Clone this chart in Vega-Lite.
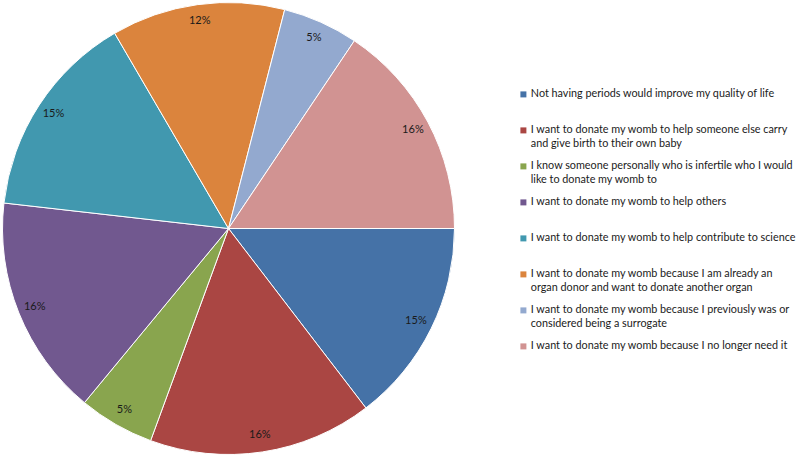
{
  "$schema": "https://vega.github.io/schema/vega-lite/v6.json",
  "width": 455,
  "height": 455,
  "padding": 0,
  "autosize": {"type": "pad"},
  "background": "white",
  "data": {
    "values": [
      {"reason": "Not having periods would improve my quality of life", "share": 0.146, "order": 1},
      {"reason": "I want to donate my womb to help someone else carry and give birth to their own baby", "share": 0.160, "order": 2},
      {"reason": "I know someone personally who is infertile who I would like to donate my womb to", "share": 0.054, "order": 3},
      {"reason": "I want to donate my womb to help others", "share": 0.158, "order": 4},
      {"reason": "I want to donate my womb to help contribute to science", "share": 0.148, "order": 5},
      {"reason": "I want to donate my womb because I am already an organ donor and want to donate another organ", "share": 0.124, "order": 6},
      {"reason": "I want to donate my womb because I previously was or considered being a surrogate", "share": 0.054, "order": 7},
      {"reason": "I want to donate my womb because I no longer need it", "share": 0.156, "order": 8}
    ]
  },
  "encoding": {
    "theta": {"field": "share", "type": "quantitative", "stack": true, "scale": {"range": [1.5708, 7.854]}},
    "order": {"field": "order", "type": "quantitative"},
    "color": {
      "field": "reason",
      "type": "nominal",
      "sort": null,
      "scale": {"range": ["#4572A7", "#AA4643", "#89A54E", "#71588F", "#4198AF", "#DB843D", "#93A9CF", "#D19392"]},
      "legend": {
        "orient": "none",
        "legendX": 517,
        "legendY": 88,
        "title": null,
        "labelFont": "Lato",
        "labelFontSize": 10.8,
        "labelColor": "#1a1a1a",
        "labelLimit": 400,
        "symbolType": "square",
        "symbolSize": 36,
        "symbolStrokeWidth": 0,
        "labelOffset": 2,
        "rowPadding": 10,
        "encode": {"labels": {"enter": {"lineHeight": {"value": 14}}, "update": {"lineHeight": {"value": 14}}}},
        "labelExpr": "datum.label == 'I want to donate my womb to help someone else carry and give birth to their own baby' ? ['I want to donate my womb to help someone else carry', 'and give birth to their own baby'] : datum.label == 'I know someone personally who is infertile who I would like to donate my womb to' ? ['I know someone personally who is infertile who I would', 'like to donate my womb to'] : datum.label == 'I want to donate my womb because I am already an organ donor and want to donate another organ' ? ['I want to donate my womb because I am already an', 'organ donor and want to donate another organ'] : datum.label == 'I want to donate my womb because I previously was or considered being a surrogate' ? ['I want to donate my womb because I previously was or', 'considered being a surrogate'] : [datum.label, '']"
      }
    }
  },
  "layer": [
    {"mark": {"type": "arc", "outerRadius": 226, "stroke": "white", "strokeWidth": 1}},
    {
      "mark": {"type": "text", "radius": 209, "font": "Lato", "fontSize": 11},
      "encoding": {
        "text": {"field": "share", "type": "quantitative", "format": ".0%"},
        "color": {"value": "#1a1a1a"}
      }
    }
  ],
  "config": {
    "view": {"stroke": null},
    "style": {"guide-label": {"lineHeight": 14}}
  }
}
